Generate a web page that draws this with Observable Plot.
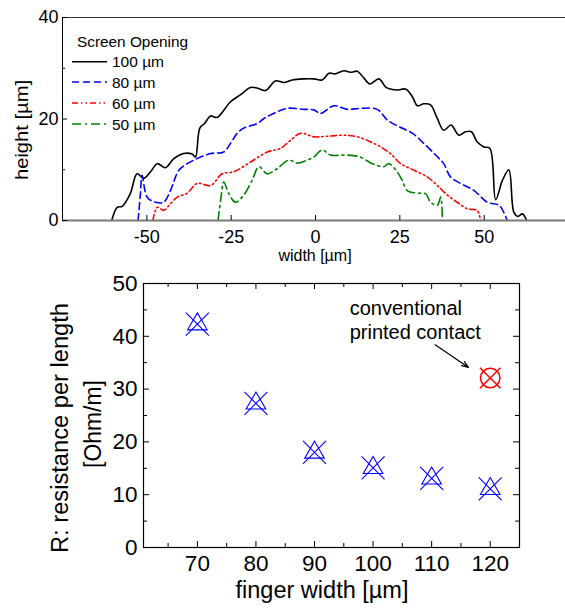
<!DOCTYPE html>
<html><head><meta charset="utf-8">
<script src="https://cdn.jsdelivr.net/npm/d3@7"></script>
<script src="https://cdn.jsdelivr.net/npm/@observablehq/plot@0.6"></script>
<style>
body{margin:0;background:#fff;}
svg{display:block;}
</style></head><body><div id="chart"></div>
<script>
// ---------- Data: top panel (printed finger profiles) ----------
const openings = ["100 µm", "80 µm", "60 µm", "50 µm"];
const seriesColors = ["black", "#0000ff", "#ff0000", "#008000"];
const seriesDash = [null, "7,4", "6,3,1.5,3,1.5,3", "9,4,2,4"];

const w100 = [-60.4,-58.8,-57.3,-54.9,-52.9,-50.9,-48.9,-46.9,-44.5,-42.0,-39.1,-36.6,-35.6,-34.3,-32.9,-31.1,-29.2,-25.2,-22.2,-19.3,-17.3,-14.8,-11.9,-9.4,-6.9,-3.5,-0.5,2.0,4.0,5.9,8.4,10.4,12.4,14.3,16.1,18.8,20.8,22.2,24.2,26.7,28.7,30.2,32.1,34.1,36.1,38.0,40.2,42.5,44.5,46.2,47.9,49.9,51.7,53.4,55.4,57.3,58.8,60.0,61.3,62.6];
const h100 = [0,2.6,2.8,5.3,9.2,8.3,9.6,11.2,10.4,12.2,13.2,13.1,12.5,18.2,19.1,20.6,20.3,23.4,24.8,26.2,26.1,25.6,27.5,27.2,27.7,27.9,27.9,27.7,29.0,28.9,29.5,29.2,29.4,28.1,26.9,27.9,26.3,25.9,25.7,25.9,24.4,22.6,23.0,22.8,20.1,17.8,18.8,16.8,17.5,17.5,15.5,14.5,14.2,4.1,7.9,10.0,1.6,0.8,1.3,0];

const w80 = [-52.6,-51.9,-51.4,-49.9,-47.4,-45.0,-43.0,-40.5,-38.0,-35.1,-31.1,-27.2,-25.2,-23.2,-21.3,-17.3,-15.3,-12.4,-8.4,-3.5,-0.5,1.5,5.4,9.4,13.3,18.3,21.3,24.7,28.7,32.1,35.6,38.0,40.0,43.0,47.0,50.9,54.4,55.8,56.8];
const h80 = [0,5.3,8.9,4.6,3.6,3.6,5.9,9.9,11.2,12.2,13.2,13.5,15.2,17.2,18.2,19.1,20.1,21.1,22.1,21.9,21.8,21.1,22.6,21.9,22.1,21.9,19.8,18.5,17.2,15.2,12.9,11.2,8.6,7.3,5.9,3.6,3.0,1.6,0];

const w60 = [-48.2,-46.9,-45.0,-43.0,-41.0,-38.0,-35.1,-31.1,-27.7,-24.2,-19.3,-14.3,-10.4,-7.4,-4.4,-0.5,3.5,8.4,12.4,16.3,19.3,22.2,25.2,29.2,33.1,36.1,39.1,42.0,45.0,47.9,48.9];
const h60 = [0,2.6,2.0,3.3,4.6,5.4,7.3,6.9,9.2,9.6,11.5,13.5,14.2,15.8,17.2,16.5,16.6,16.8,16.5,15.5,14.5,13.2,11.2,9.9,8.6,6.9,5.0,3.6,2.3,2.0,0];

const w50 = [-28.9,-28.0,-27.2,-25.7,-23.7,-21.3,-18.8,-16.8,-14.3,-11.4,-7.9,-5.4,-2.5,-0.5,2.0,4.4,9.4,13.3,16.8,20.3,21.7,24.2,25.7,27.2,30.2,32.6,34.1,36.1,37.1,37.6];
const h50 = [0,4.6,7.6,5.3,3.6,5.0,7.9,10.6,9.2,10.2,11.9,11.3,11.9,12.5,13.9,12.9,12.9,12.5,11.2,10.6,11.2,9.6,7.9,5.9,5.4,5.3,3.6,3.0,4.6,0];

const widthTicks = [-50, -25, 0, 25, 50];
const heightTicks = [0, 20, 40];
const heightMinor = [10, 30];

// ---------- Data: bottom panel (resistance) ----------
const fingerWidths = [70, 80, 90, 100, 110, 120];
const resistance = [42.3, 27.3, 18.0, 15.1, 13.1, 11.1];
const conventionalWidth = [120];
const conventionalR = [32.1];
const fingerTicks = [70, 80, 90, 100, 110, 120];
const fingerMinor = [65, 75, 85, 95, 105, 115];
const resTicks = [0, 10, 20, 30, 40, 50];
const resMinor = [5, 15, 25, 35, 45];
const annotLines = ["conventional", "printed contact"];
const annotX = [96.0, 96.0];
const annotY = [45.3, 40.7];
const arrowFrom = [110.6, 38.4];
const arrowTo = [116.3, 34.1];

const FONT = "'Liberation Sans', Arial, Helvetica, sans-serif";

// tables
const profileW = [w100, w80, w60, w50];
const profileH = [h100, h80, h60, h50];
const profiles = openings.map((o, i) => profileW[i].map((w, j) => ({opening: o, w, h: profileH[i][j]})));
const measured = fingerWidths.map((w, i) => ({w, r: resistance[i]}));
const conventional = conventionalWidth.map((w, i) => ({w, r: conventionalR[i]}));
const annot = annotLines.map((t, i) => ({t, x: annotX[i], y: annotY[i]}));

// custom symbols (size = pi*r^2)
const R = s => Math.sqrt(s / Math.PI);
const triSym = {draw(c, s){ const r = R(s); c.moveTo(0, -1.13*r); c.lineTo(0.98*r, 0.567*r); c.lineTo(-0.98*r, 0.567*r); c.closePath(); }};
const timesBig = {draw(c, s){ const r = R(s)*1.15; c.moveTo(-r,-r); c.lineTo(r,r); c.moveTo(-r,r); c.lineTo(r,-r); }};
const timesRed = {draw(c, s){ const r = R(s)*1.03; c.moveTo(-r,-r); c.lineTo(r,r); c.moveTo(-r,r); c.lineTo(r,-r); }};
const circSym = {draw(c, s){ const r = R(s)*0.97; c.moveTo(r,0); c.arc(0,0,r,0,2*Math.PI); }};

// ---------- Top plot ----------
const tfH = 260 - 17 - 40, tfW = 565 - 62;
const dashFmt = d => d < 0 ? "-" + Math.abs(d) : String(d);
const topPlot = Plot.plot({
  width: 565, height: 260,
  marginLeft: 62, marginRight: 0, marginTop: 17, marginBottom: 40,
  style: {fontFamily: FONT, background: "transparent", overflow: "visible", color: "black"},
  x: {domain: [-75, 74.1]},
  y: {domain: [0, 40]},
  marks: [
    ...profiles.map((p, i) => Plot.line(p, {x: "w", y: "h", stroke: seriesColors[i], strokeWidth: 1.6, strokeDasharray: seriesDash[i], curve: "catmull-rom"})),
    Plot.ruleY([40], {stroke: "#333", strokeWidth: 1.2}),
    Plot.ruleX([-75], {stroke: "black"}),
    Plot.ruleY([0], {stroke: "#7a7a7a", strokeWidth: 2}),
    Plot.tickX(widthTicks, {x: d => d, insetTop: tfH - 5, stroke: "black"}),
    Plot.tickY(heightTicks, {y: d => d, insetRight: tfW - 5, stroke: "black"}),
    Plot.tickY(heightMinor, {y: d => d, insetRight: tfW - 3, stroke: "black"}),
    Plot.axisX(widthTicks, {tickSize: 0, tickPadding: 10, tickFormat: dashFmt, fontSize: 18, label: null}),
    Plot.axisY(heightTicks, {tickSize: 0, tickPadding: 4, fontSize: 18, label: null})
  ]
});

const st = d3.select(topPlot);
st.append("text").attr("transform", "translate(22,130) rotate(-90)")
  .attr("text-anchor", "middle").attr("dominant-baseline", "central")
  .attr("font-family", FONT).attr("font-size", 18).attr("fill", "black")
  .attr("textLength", 100).attr("lengthAdjust", "spacingAndGlyphs").text("height [µm]");
st.append("text").attr("x", 315).attr("y", 261).attr("text-anchor", "middle")
  .attr("font-family", FONT).attr("font-size", 16).attr("fill", "black").text("width [µm]");
const lg = st.append("g").attr("font-family", FONT).attr("font-size", 15.5).attr("fill", "black").attr("text-anchor", "start");
lg.append("text").attr("x", 77).attr("y", 41).attr("text-anchor", "start").attr("dominant-baseline", "central")
  .attr("textLength", 111).attr("lengthAdjust", "spacingAndGlyphs").text("Screen Opening");
const rowY = [61.7, 82, 103, 124];
openings.forEach((o, i) => {
  lg.append("line").attr("x1", 72).attr("x2", 107).attr("y1", rowY[i]).attr("y2", rowY[i])
    .attr("stroke", seriesColors[i]).attr("stroke-width", 1.6)
    .attr("stroke-dasharray", seriesDash[i]);
  lg.append("text").attr("x", 112).attr("y", rowY[i]).attr("text-anchor", "start").attr("dominant-baseline", "central").text(o);
});

// ---------- Bottom plot ----------
const bfH = 350 - 23 - 63, bfW = 565 - 143 - 46;
const botPlot = Plot.plot({
  width: 565, height: 350,
  marginLeft: 143, marginRight: 46, marginTop: 23, marginBottom: 63,
  style: {fontFamily: FONT, background: "transparent", overflow: "visible", color: "black"},
  x: {domain: [60.8, 125]},
  y: {domain: [0, 50]},
  marks: [
    Plot.frame({stroke: "black", strokeWidth: 1.2}),
    Plot.tickX(fingerTicks, {x: d => d, insetTop: bfH - 6, stroke: "black"}),
    Plot.tickX(fingerTicks, {x: d => d, insetBottom: bfH - 6, stroke: "black"}),
    Plot.tickX(fingerMinor, {x: d => d, insetTop: bfH - 4, stroke: "black"}),
    Plot.tickX(fingerMinor, {x: d => d, insetBottom: bfH - 4, stroke: "black"}),
    Plot.tickY(resTicks, {y: d => d, insetRight: bfW - 6, stroke: "black"}),
    Plot.tickY(resTicks, {y: d => d, insetLeft: bfW - 6, stroke: "black"}),
    Plot.tickY(resMinor, {y: d => d, insetRight: bfW - 4, stroke: "black"}),
    Plot.tickY(resMinor, {y: d => d, insetLeft: bfW - 4, stroke: "black"}),
    Plot.axisX(fingerTicks, {tickSize: 0, tickPadding: 8, fontSize: 22.5, label: null}),
    Plot.axisY(resTicks, {tickSize: 0, tickPadding: 6, fontSize: 22.5, label: null}),
    Plot.dot(measured, {x: "w", y: "r", symbol: triSym, r: 10, stroke: "#0000ff", fill: "none", strokeWidth: 1.1}),
    Plot.dot(measured, {x: "w", y: "r", symbol: timesBig, r: 10, stroke: "#0000ff", fill: "none", strokeWidth: 1.1}),
    Plot.dot(conventional, {x: "w", y: "r", symbol: circSym, r: 10, stroke: "#ff0000", fill: "none", strokeWidth: 1.5}),
    Plot.dot(conventional, {x: "w", y: "r", symbol: timesRed, r: 10, stroke: "#ff0000", fill: "none", strokeWidth: 1.5}),
    Plot.text(annot, {x: "x", y: "y", text: "t", textAnchor: "start", fontSize: 20, fill: "black"}),
    Plot.arrow([{x1: arrowFrom[0], y1: arrowFrom[1], x2: arrowTo[0], y2: arrowTo[1]}],
      {x1: "x1", y1: "y1", x2: "x2", y2: "y2", stroke: "black", strokeWidth: 1.2, headLength: 9, headAngle: 40})
  ]
});
const sb = d3.select(botPlot);
sb.append("text").attr("x", 322).attr("y", 338).attr("text-anchor", "middle")
  .attr("font-family", FONT).attr("font-size", 23).attr("fill", "black")
  .attr("textLength", 173).attr("lengthAdjust", "spacingAndGlyphs").text("finger width [µm]");
sb.append("text").attr("transform", "translate(60,168) rotate(-90)")
  .attr("text-anchor", "middle").attr("dominant-baseline", "central")
  .attr("font-family", FONT).attr("font-size", 23).attr("fill", "black")
  .attr("textLength", 250).attr("lengthAdjust", "spacingAndGlyphs").text("R: resistance per length");
sb.append("text").attr("transform", "translate(92.5,164) rotate(-90)")
  .attr("text-anchor", "middle").attr("dominant-baseline", "central")
  .attr("font-family", FONT).attr("font-size", 23).attr("fill", "black")
  .attr("textLength", 88).attr("lengthAdjust", "spacingAndGlyphs").text("[Ohm/m]");

const root = document.getElementById("chart");
root.appendChild(topPlot);
root.appendChild(botPlot);
</script></body></html>
